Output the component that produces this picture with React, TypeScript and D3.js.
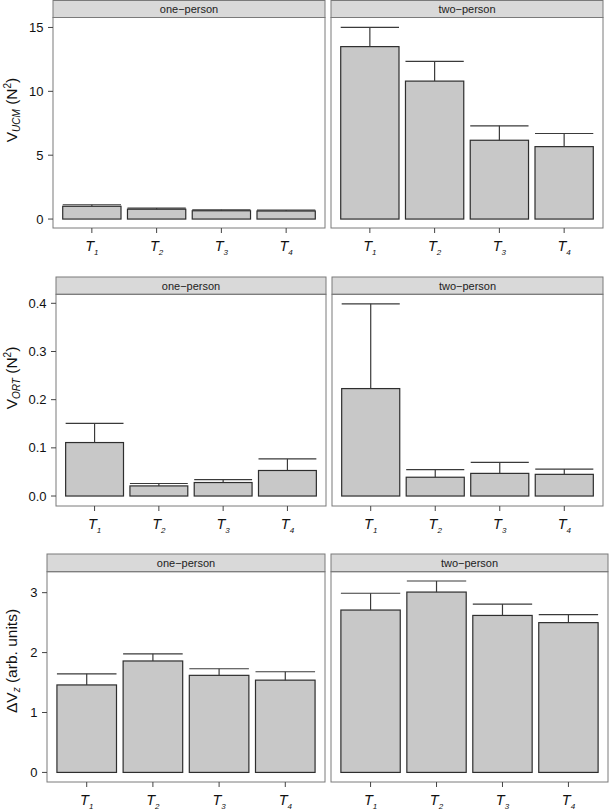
import React from 'react';
import * as d3 from 'd3';

// trials and conditions
const trials = ['1', '2', '3', '4'];
const conditions = ['one\u2212person', 'two\u2212person'];

// V_UCM (N^2): bar means and upper error bar
const vucmOne = [1.0, 0.77, 0.65, 0.63];
const vucmOneErr = [1.12, 0.86, 0.72, 0.7];
const vucmTwo = [13.5, 10.8, 6.17, 5.67];
const vucmTwoErr = [15.0, 12.35, 7.3, 6.7];

// V_ORT (N^2)
const vortOne = [0.111, 0.021, 0.028, 0.053];
const vortOneErr = [0.151, 0.026, 0.034, 0.077];
const vortTwo = [0.223, 0.039, 0.047, 0.045];
const vortTwoErr = [0.399, 0.055, 0.07, 0.056];

// delta V_z (arb. units)
const dvzOne = [1.46, 1.86, 1.62, 1.54];
const dvzOneErr = [1.645, 1.98, 1.73, 1.68];
const dvzTwo = [2.71, 3.01, 2.62, 2.5];
const dvzTwoErr = [2.99, 3.195, 2.81, 2.633];

// y tick labels
const ticksUcm = [0, 5, 10, 15];
const ticksOrt = [0, 0.1, 0.2, 0.3, 0.4];
const ticksDvz = [0, 1, 2, 3];

const FONT = '"Liberation Sans", Arial, Helvetica, sans-serif';

type Row = {
  top: number;
  strip: number;
  bottom: number;
  xs: [number, number][];
  domain: [number, number];
  ticks: number[];
  fmt: (v: number) => string;
  means: number[][];
  errs: number[][];
  label: React.ReactNode;
  labelY: number;
};

const rows: Row[] = [
  {
    top: 0.5, strip: 17, bottom: 228,
    xs: [[53, 325], [331, 603]],
    domain: [-0.7, 15.78],
    ticks: ticksUcm,
    fmt: d3.format('d'),
    means: [vucmOne, vucmTwo],
    errs: [vucmOneErr, vucmTwoErr],
    labelY: 110,
    label: (
      <>
        V<tspan fontSize={10} fontStyle="italic" dy={3}>UCM</tspan>
        <tspan dy={-3}> (N</tspan>
        <tspan fontSize={10} dy={-6}>2</tspan>
        <tspan dy={6}>)</tspan>
      </>
    ),
  },
  {
    top: 277, strip: 17.3, bottom: 506,
    xs: [[56, 326], [332, 603]],
    domain: [-0.0207, 0.4187],
    ticks: ticksOrt,
    fmt: d3.format('.1f'),
    means: [vortOne, vortTwo],
    errs: [vortOneErr, vortTwoErr],
    labelY: 378,
    label: (
      <>
        V<tspan fontSize={10} fontStyle="italic" dy={3}>ORT</tspan>
        <tspan dy={-3}> (N</tspan>
        <tspan fontSize={10} dy={-6}>2</tspan>
        <tspan dy={6}>)</tspan>
      </>
    ),
  },
  {
    top: 554, strip: 17.7, bottom: 782,
    xs: [[47, 325], [331, 608]],
    domain: [-0.16, 3.35],
    ticks: ticksDvz,
    fmt: d3.format('d'),
    means: [dvzOne, dvzTwo],
    errs: [dvzOneErr, dvzTwoErr],
    labelY: 661,
    label: (
      <>
        {'\u0394'}V<tspan fontSize={10} fontStyle="italic" dy={3}>z</tspan>
        <tspan dy={-3}> (arb. units)</tspan>
      </>
    ),
  },
];

function Panel({ row, pi }: { row: Row; pi: number }) {
  const [x0, x1] = row.xs[pi];
  const plotTop = row.top + row.strip;
  const y = d3.scaleLinear().domain(row.domain).range([row.bottom, plotTop]);
  const x = d3.scalePoint<string>().domain(trials).range([x0, x1]).padding(0.6);
  const bw = x.step() * 0.9;
  const means = row.means[pi];
  const errs = row.errs[pi];
  return (
    <g>
      {/* strip */}
      <rect x={x0} y={row.top} width={x1 - x0} height={row.strip} fill="#d9d9d9" stroke="#7a7a7a" strokeWidth={1} />
      <text x={(x0 + x1) / 2} y={row.top + row.strip / 2} dy="0.35em" textAnchor="middle" fontSize={11} fill="#222">
        {conditions[pi]}
      </text>
      {/* bars */}
      {trials.map((t, i) => {
        const cx = x(t) as number;
        return (
          <g key={t}>
            <rect x={cx - bw / 2} y={y(means[i])} width={bw} height={y(0) - y(means[i])} fill="#c8c8c8" stroke="#2e2e2e" strokeWidth={1.2} />
            <line x1={cx} x2={cx} y1={y(means[i])} y2={y(errs[i])} stroke="#3a3a3a" strokeWidth={1.2} />
            <line x1={cx - bw / 2} x2={cx + bw / 2} y1={y(errs[i])} y2={y(errs[i])} stroke="#3a3a3a" strokeWidth={1.2} />
          </g>
        );
      })}
      {/* panel border */}
      <rect x={x0} y={plotTop} width={x1 - x0} height={row.bottom - plotTop} fill="none" stroke="#7a7a7a" strokeWidth={1} />
      {/* x axis */}
      {trials.map(t => {
        const cx = x(t) as number;
        return (
          <g key={'x' + t}>
            <line x1={cx} x2={cx} y1={row.bottom} y2={row.bottom + 5} stroke="#444" strokeWidth={1} />
            <text x={cx} y={row.bottom + 23} textAnchor="middle" fontSize={14.5} fontStyle="italic" fill="#111">
              T<tspan fontSize={8} dy={4}>{t}</tspan>
            </text>
          </g>
        );
      })}
      {/* y axis on the left panel only */}
      {pi === 0 &&
        row.ticks.map(v => (
          <g key={'y' + v}>
            <line x1={x0 - 5} x2={x0} y1={y(v)} y2={y(v)} stroke="#444" strokeWidth={1} />
            <text x={x0 - 9.5} y={y(v)} dy="0.35em" textAnchor="end" fontSize={13} fill="#111">
              {row.fmt(v)}
            </text>
          </g>
        ))}
    </g>
  );
}

export default function App() {
  return (
    <div style={{ position: 'absolute', left: 0, top: 0 }}>
      <svg width={610} height={810} fontFamily={FONT} style={{ display: 'block', background: '#fff' }}>
        {rows.map((row, ri) => (
          <g key={ri}>
            <Panel row={row} pi={0} />
            <Panel row={row} pi={1} />
            <text transform={`translate(17,${row.labelY}) rotate(-90)`} textAnchor="middle" fontSize={15.5} fill="#111">
              {row.label}
            </text>
          </g>
        ))}
      </svg>
    </div>
  );
}
